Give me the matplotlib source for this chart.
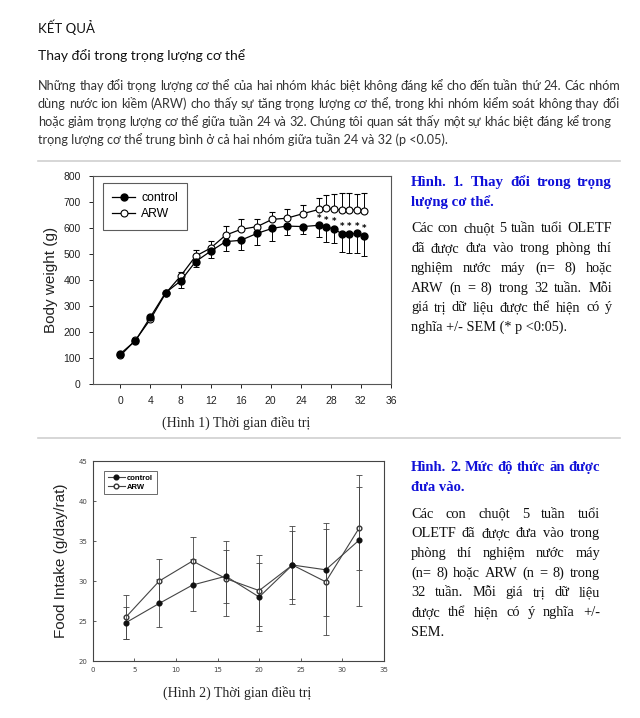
import matplotlib
matplotlib.use("Agg")
import matplotlib.pyplot as plt
from matplotlib.lines import Line2D

# Figure 1: body weight (g), mean with one-sided SEM bars
bw_weeks = [0, 2, 4, 6, 8, 10, 12, 14, 16, 18.2, 20.2, 22.1, 24.3,
            26.4, 27.4, 28.4, 29.5, 30.4, 31.5, 32.4]
ctrl_bw = [115, 165, 257, 350, 395, 470, 510, 547, 552, 579, 598, 607, 605,
           610, 602, 597, 576, 576, 579, 570]
ctrl_bw_sem = [6, 6, 8, 8, 28, 20, 25, 38, 36, 44, 48, 35, 30,
               44, 57, 54, 68, 74, 77, 79]
arw_bw = [108, 167, 248, 347, 414, 491, 522, 572, 594, 605, 633, 637, 655,
          671, 675, 671, 669, 669, 669, 666]
arw_bw_sem = [5, 5, 8, 8, 15, 22, 28, 35, 39, 28, 29, 36, 33,
              43, 50, 59, 67, 67, 61, 67]
bw_sig = [False] * 13 + [True] * 7

# Figure 2: food intake (g/day/rat)
fi_weeks = [4, 8, 12, 16, 20, 24, 28, 32]
ctrl_fi = [24.8, 27.2, 29.5, 30.6, 28.0, 32.0, 31.4, 35.1]
ctrl_fi_sem = [2.0, 3.0, 3.2, 3.3, 4.3, 4.2, 5.8, 8.2]
arw_fi = [25.5, 30.0, 32.5, 30.3, 28.8, 32.0, 29.9, 36.6]
arw_fi_sem = [2.7, 2.8, 3.0, 4.7, 4.4, 4.9, 6.6, 5.2]

# document text
heading = "KẾT QUẢ"
subheading = "Thay đổi trong trọng lượng cơ thể"
para_lines = [
    "Những thay đổi trọng lượng cơ thể của hai nhóm khác biệt không đáng kể cho đến tuần thứ 24. Các nhóm",
    "dùng nước ion kiềm (ARW) cho thấy sự tăng trọng lượng cơ thể, trong khi nhóm kiểm soát không thay đổi",
    "hoặc giảm trọng lượng cơ thể giữa tuần 24 và 32. Chúng tôi quan sát thấy một sự khác biệt đáng kể trong",
    "trọng lượng cơ thể trung bình ở cả hai nhóm giữa tuần 24 và 32 (p <0.05).",
]
cap1_title = ["Hình. 1. Thay đổi trong trọng", "lượng cơ thể."]
cap1_body = [
    "Các con chuột 5 tuần tuổi OLETF",
    "đã được đưa vào trong phòng thí",
    "nghiệm nước máy (n= 8) hoặc",
    "ARW (n = 8) trong 32 tuần. Mỗi",
    "giá trị dữ liệu được thể hiện có ý",
    "nghĩa +/- SEM (* p <0:05).",
]
cap2_title = ["Hình. 2. Mức độ thức ăn được", "đưa vào."]
cap2_body = [
    "Các con chuột 5 tuần tuổi",
    "OLETF đã được đưa vào trong",
    "phòng thí nghiệm nước máy",
    "(n= 8) hoặc ARW (n = 8) trong",
    "32 tuần. Mỗi giá trị dữ liệu",
    "được thể hiện có ý nghĩa +/-",
    "SEM.",
]
xcap1 = "(Hình 1) Thời gian điều trị"
xcap2 = "(Hình 2) Thời gian điều trị"

W, H = 640, 718
fig = plt.figure(figsize=(W / 100, H / 100), dpi=100)
fig.patch.set_facecolor("white")
renderer = fig.canvas.get_renderer()


def fy(py):
    return 1 - py / H


def put(x, y, s, **kw):
    return fig.text(x / W, fy(y), s, va="baseline", **kw)


def justify(x0, x1, y, s, **kw):
    words = s.split(" ")
    arts = [put(0, y, w, **kw) for w in words]
    widths = [a.get_window_extent(renderer).width for a in arts]
    gap = (x1 - x0 - sum(widths)) / max(len(words) - 1, 1)
    x = x0
    for a, w in zip(arts, widths):
        a.set_x(x / W)
        x += w + gap


def hline(y, x0=38, x1=620):
    fig.add_artist(Line2D([x0 / W, x1 / W], [fy(y), fy(y)],
                          color="#d0d0d0", lw=1.2))


# ---- top text block ----
sans = "Lato"
psize = 9.1
put(38, 33, heading, family=sans, fontsize=9.5, color="#111")
put(38, 60, subheading, family=sans, fontsize=10, color="#111")
for i, line in enumerate(para_lines):
    y = 90 + 18 * i
    if i < 3:
        justify(38, 620 if i < 2 else 612, y, line, family=sans,
                fontsize=psize, color="#333")
    else:
        put(38, y, line, family=sans, fontsize=psize, color="#333")
hline(161)
hline(438)

# ---- captions on the right ----
serif = "Liberation Serif"
blue = "#1010d8"


def caption(x0, x1, y0, title, body, tsize, bsize):
    y = y0
    for i, line in enumerate(title):
        kw = dict(family=serif, fontsize=tsize, fontweight="bold", color=blue)
        if i < len(title) - 1:
            justify(x0, x1, y, line, **kw)
        else:
            put(x0, y, line, **kw)
        y += 20
    y += 6.5
    for i, line in enumerate(body):
        kw = dict(family=serif, fontsize=bsize, color="#111")
        if i < len(body) - 1:
            justify(x0, x1, y, line, **kw)
        else:
            put(x0, y, line, **kw)
        y += 19.7


caption(411, 612, 186, cap1_title, cap1_body, 10.7, 10.3)
caption(411, 600, 471, cap2_title, cap2_body, 10.5, 10.4)

# ---- Figure 1: body weight ----
ax1 = fig.add_axes([93 / W, fy(383.5), 298 / W, 207.5 / H])
ax1.errorbar(bw_weeks, ctrl_bw, yerr=[ctrl_bw_sem, [0] * len(ctrl_bw)],
             fmt="-o", color="black", mfc="black", mec="black", ms=5,
             lw=0.9, elinewidth=0.7, capsize=2, capthick=0.7, label="control",
             zorder=3)
ax1.errorbar(bw_weeks, arw_bw, yerr=[[0] * len(arw_bw), arw_bw_sem],
             fmt="-o", color="black", mfc="white", mec="black", ms=5,
             mew=0.8, lw=0.9, elinewidth=0.7, capsize=2, capthick=0.7,
             label="ARW", zorder=2)
for x, y, s in zip(bw_weeks, ctrl_bw, bw_sig):
    if s:
        ax1.annotate("*", (x, y), xytext=(0, 2), textcoords="offset points",
                     ha="center", va="bottom", fontsize=6.2, color="black",
                     fontweight="bold", family="DejaVu Sans", zorder=6)
ax1.set_xlim(-3.65, 36)
ax1.set_ylim(0, 800)
ax1.set_xticks(range(0, 37, 4))
ax1.set_yticks(range(0, 801, 100))
ax1.tick_params(direction="out", length=3, width=0.7, labelsize=7.5,
                colors="#222", pad=6)
for sp in ax1.spines.values():
    sp.set_color("#555")
    sp.set_linewidth(0.8)
ax1.set_ylabel("Body weight (g)", fontsize=11, family="Liberation Sans",
               color="#222", labelpad=4)
for t in ax1.get_xticklabels() + ax1.get_yticklabels():
    t.set_family("Liberation Sans")
h, l = ax1.get_legend_handles_labels()
h = [hh[0] for hh in h]
leg = ax1.legend(h, l, loc="upper left", bbox_to_anchor=(0.033, 0.966),
                 borderaxespad=0, fancybox=False, edgecolor="#333",
                 handlelength=1.9, handletextpad=0.5, borderpad=0.75,
                 labelspacing=0.35, prop={"family": "Liberation Sans",
                                          "size": 8.8})
leg.get_frame().set_linewidth(0.8)
put(236.5, 427, xcap1, family=serif, fontsize=10, color="#222", ha="center")

# ---- Figure 2: food intake ----
ax2 = fig.add_axes([92.7 / W, fy(661), 291.3 / W, 200 / H])
ax2.errorbar(fi_weeks, ctrl_fi, yerr=ctrl_fi_sem, fmt="-o", color="#444",
             mfc="#111", mec="#111", ms=3.4, lw=0.8, elinewidth=0.6,
             capsize=2.2, capthick=0.6, label="control", zorder=3)
ax2.errorbar(fi_weeks, arw_fi, yerr=arw_fi_sem, fmt="-o", color="#444",
             mfc="white", mec="#333", ms=3.4, lw=0.8, elinewidth=0.6,
             capsize=2.2, capthick=0.6, label="ARW", zorder=2)
ax2.set_xlim(0, 35)
ax2.set_ylim(20, 45)
ax2.set_xticks(range(0, 36, 5))
ax2.set_yticks(range(20, 46, 5))
ax2.tick_params(direction="in", length=2.5, width=0.6, labelsize=5,
                colors="#444", pad=4)
for sp in ax2.spines.values():
    sp.set_color("#444")
    sp.set_linewidth(0.8)
ax2.set_ylabel("Food Intake (g/day/rat)", fontsize=11,
               family="Liberation Sans", color="#222", labelpad=7)
h, l = ax2.get_legend_handles_labels()
h = [hh[0] for hh in h]
leg2 = ax2.legend(h, l, loc="upper left", bbox_to_anchor=(0.039, 0.95),
                  borderaxespad=0, fancybox=False, edgecolor="#444",
                  handlelength=2.2, handletextpad=0.3, borderpad=0.5,
                  labelspacing=0.15,
                  prop={"family": "Liberation Sans", "size": 5.5,
                        "weight": "bold"})
leg2.get_frame().set_linewidth(0.7)
put(237.5, 697, xcap2, family=serif, fontsize=10, color="#222", ha="center")

fig.savefig("out.png", dpi=100)
